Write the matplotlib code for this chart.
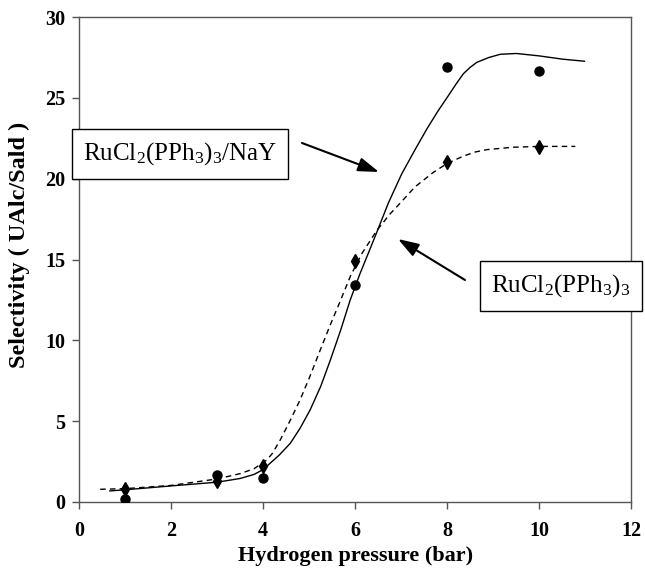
import matplotlib
matplotlib.use("Agg")
import matplotlib.pyplot as plt

plt.rcParams['font.family'] = ['Liberation Serif', 'DejaVu Serif']
plt.rcParams['mathtext.fontset'] = 'custom'
plt.rcParams['mathtext.rm'] = 'Liberation Serif'
plt.rcParams['mathtext.it'] = 'Liberation Serif:italic'
plt.rcParams['mathtext.bf'] = 'Liberation Serif:bold'

# measured data points
pressure = [1, 3, 4, 6, 8, 10]
sel_nay = [0.2, 1.65, 1.5, 13.4, 26.9, 26.65]      # circles, RuCl2(PPh3)3/NaY
sel_homo = [0.8, 1.3, 2.2, 14.9, 21.05, 21.95]     # diamonds, RuCl2(PPh3)3

# fitted curves
fit_nay_x = [0.67, 1.0, 2.0, 3.0, 3.5, 3.8, 4.0, 4.15, 4.35, 4.59, 4.8, 5.02, 5.25, 5.46,
             5.68, 5.89, 6.1, 6.3, 6.47, 6.72, 7.01, 7.3, 7.56, 7.8, 7.99, 8.2, 8.35, 8.5,
             8.64, 8.9, 9.15, 9.5, 10.0, 10.5, 10.98]
fit_nay_y = [0.68, 0.75, 0.99, 1.22, 1.45, 1.7, 2.0, 2.39, 2.9, 3.63, 4.55, 5.69, 7.15, 8.78,
             10.6, 12.49, 14.1, 15.5, 16.7, 18.5, 20.3, 21.8, 23.1, 24.2, 25.0, 25.9, 26.5, 26.9,
             27.2, 27.5, 27.7, 27.75, 27.6, 27.4, 27.27]
fit_homo_x = [0.46, 1.0, 2.0, 3.0, 3.5, 3.8, 4.08, 4.2, 4.37, 4.58, 4.8, 5.02, 5.24, 5.45,
              5.67, 5.9, 6.15, 6.47, 6.75, 6.98, 7.3, 7.7, 8.0, 8.35, 8.6, 8.86, 9.43, 10.0, 10.78]
fit_homo_y = [0.78, 0.82, 1.02, 1.42, 1.75, 2.05, 2.6, 3.0, 3.83, 5.0, 6.3, 7.8, 9.4, 10.9,
              12.4, 14.0, 15.4, 16.8, 17.8, 18.5, 19.5, 20.4, 20.95, 21.4, 21.65, 21.8, 21.95, 22.0, 22.0]

fig = plt.figure(figsize=(6.45, 5.71), dpi=100)
ax = fig.add_axes([0.1225, 0.121, 0.8565, 0.849])

ax.plot(fit_nay_x, fit_nay_y, color='black', lw=1.0, zorder=2)
ax.plot(fit_homo_x, fit_homo_y, color='black', lw=1.0, ls=(0, (4, 3)), zorder=2)
ax.plot(pressure, sel_nay, 'o', color='black', ms=6.5, zorder=3)
ax.plot(pressure, sel_homo, 'd', color='black', ms=7.5, zorder=3)

ax.set_xlim(0, 12)
ax.set_ylim(0, 30)
ax.set_xticks(range(0, 13, 2))
ax.set_yticks(range(0, 31, 5))
for s in ['left', 'bottom', 'top', 'right']:
    ax.spines[s].set_color('#555555')
    ax.spines[s].set_linewidth(1.0)
ax.tick_params(direction='out', length=5, width=1, color='#555555', labelsize=14.5)
ax.tick_params(axis='x', pad=9)
ax.tick_params(axis='y', pad=5)
for lab in ax.get_xticklabels() + ax.get_yticklabels():
    lab.set_fontweight('bold')

ax.set_xlabel('Hydrogen pressure (bar)', fontsize=16, fontweight='bold', labelpad=3)
ax.set_ylabel('Selectivity ( UAlc/Sald )', fontsize=17.5, fontweight='bold')
ax.yaxis.set_label_coords(-0.088, 0.53)

box = dict(boxstyle='square,pad=0.45', fc='white', ec='black', lw=1.0)
fig.text(180 / 645, 1 - 154 / 571, r'RuCl$_2$(PPh$_3$)$_3$/NaY', fontsize=18,
         ha='center', va='center', bbox=box, zorder=10)
fig.text(561 / 645, 1 - 286 / 571, r'RuCl$_2$(PPh$_3$)$_3$', fontsize=18,
         ha='center', va='center', bbox=box, zorder=10)

arrowprops = dict(arrowstyle='-|>,head_length=0.9,head_width=0.3', color='black', lw=1.5,
                  shrinkA=0, shrinkB=0)
fig.add_artist(matplotlib.patches.FancyArrowPatch(
    (302 / 645, 1 - 143 / 571), (379 / 645, 1 - 172 / 571), transform=fig.transFigure,
    mutation_scale=14, **arrowprops))
fig.add_artist(matplotlib.patches.FancyArrowPatch(
    (465 / 645, 1 - 280 / 571), (398 / 645, 1 - 239 / 571), transform=fig.transFigure,
    mutation_scale=14, **arrowprops))

fig.savefig('out.png', dpi=100)
